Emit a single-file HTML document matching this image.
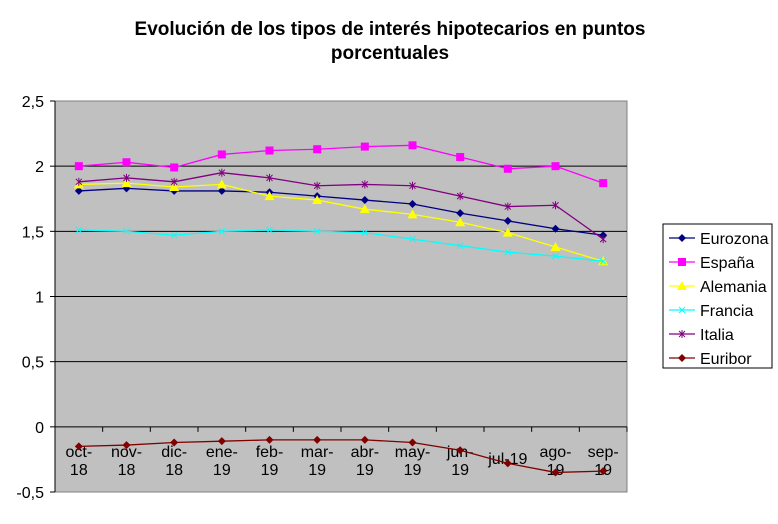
<!DOCTYPE html>
<html><head><meta charset="utf-8"><style>
body{margin:0;background:#fff;width:778px;height:519px;overflow:hidden;font-family:"Liberation Sans",Arial,sans-serif}
</style></head><body>
<svg width="778" height="519" xmlns="http://www.w3.org/2000/svg" font-family="Liberation Sans, Arial, sans-serif">
<text x="390" y="35" text-anchor="middle" font-size="19" font-weight="bold">Evolución de los tipos de interés hipotecarios en puntos</text>
<text x="390" y="59" text-anchor="middle" font-size="19" font-weight="bold">porcentuales</text>
<rect x="55" y="101" width="572" height="391" fill="#c0c0c0" stroke="#808080"/>
<g id="grid"></g><g id="axes"></g><g id="series"></g>
<g id="legend"></g>
</svg>
<script>
const categories=["oct-|18","nov-|18","dic-|18","ene-|19","feb-|19","mar-|19","abr-|19","may-|19","jun-|19","jul-19","ago-|19","sep-|19"];
const yTicks=[2.5,2,1.5,1,0.5,0,-0.5];
const yTickLabels=["2,5","2","1,5","1","0,5","0","-0,5"];
const seriesNames=["Eurozona","España","Alemania","Francia","Italia","Euribor"];
const eurozona=[1.81,1.83,1.81,1.81,1.80,1.77,1.74,1.71,1.64,1.58,1.52,1.47];
const espana=[2.00,2.03,1.99,2.09,2.12,2.13,2.15,2.16,2.07,1.98,2.00,1.87];
const alemania=[1.86,1.87,1.84,1.86,1.77,1.74,1.67,1.63,1.57,1.49,1.38,1.27];
const francia=[1.51,1.50,1.47,1.50,1.51,1.50,1.49,1.44,1.39,1.34,1.31,1.27];
const italia=[1.88,1.91,1.88,1.95,1.91,1.85,1.86,1.85,1.77,1.69,1.70,1.44];
const euribor=[-0.15,-0.14,-0.12,-0.11,-0.10,-0.10,-0.10,-0.12,-0.18,-0.28,-0.35,-0.34];
const NS="http://www.w3.org/2000/svg";
const L=55,R=627,T=101,B=492,ymax=2.5,ymin=-0.5;
const bw=(R-L)/categories.length;
function xs(i){return L+bw*(i+0.5);}
function ys(v){return T+(ymax-v)/(ymax-ymin)*(B-T);}
function mk(tag,attrs,parent){const e=document.createElementNS(NS,tag);for(const k in attrs)e.setAttribute(k,attrs[k]);parent.appendChild(e);return e;}
const grid=document.getElementById('grid'),axes=document.getElementById('axes'),ser=document.getElementById('series'),leg=document.getElementById('legend');
yTicks.forEach((v,i)=>{
 if(v!==ymax&&v!==ymin){const g=mk('line',{x1:L,x2:R,y1:ys(v),y2:ys(v),stroke:'#000','stroke-width':1},grid);
 
 }
 const t=mk('text',{x:L-11,y:ys(v)+6,'text-anchor':'end','font-size':16},axes);
 
 
 t.textContent=yTickLabels[i];
 mk('line',{x1:L-5,x2:L,y1:ys(v),y2:ys(v),stroke:'#000'},axes);
});
mk('line',{x1:L,x2:L,y1:T,y2:B,stroke:'#000'},axes);
const y0=ys(0);
for(let i=1;i<=categories.length;i++)mk('line',{x1:L+bw*i,x2:L+bw*i,y1:y0,y2:y0+5,stroke:'#000'},axes);
categories.forEach((c,i)=>{
 const parts=c.split('|');
 parts.forEach((p,j)=>{
  const t=mk('text',{x:xs(i),y:(parts.length===1?y0+37:y0+30+j*18),'text-anchor':'middle','font-size':16,fill:'#000'},axes);
  
  
  t.textContent=p;
 });
});
const colors=["#000080","#ff00ff","#ffff00","#00ffff","#800080","#800000"];
const data=[eurozona,espana,alemania,francia,italia,euribor];
const shapes=["diamond","square","triangle","x","star","diamond"];
function marker(shape,x,y,c,p){
 if(shape==="diamond")return mk('polygon',{points:`${x},${y-4} ${x+4},${y} ${x},${y+4} ${x-4},${y}`,fill:c},p);
 if(shape==="square")return mk('rect',{x:x-4,y:y-4,width:8,height:8,fill:c},p);
 if(shape==="triangle")return mk('polygon',{points:`${x},${y-5} ${x+5},${y+4} ${x-5},${y+4}`,fill:c},p);
 const g=mk('g',{stroke:c,'stroke-width':1},p);
 mk('line',{x1:x-3,y1:y-3,x2:x+3,y2:y+3},g);mk('line',{x1:x-3,y1:y+3,x2:x+3,y2:y-3},g);
 if(shape==="star")mk('line',{x1:x,y1:y-4,x2:x,y2:y+4},g);
 return g;
}
data.forEach((d,s)=>{
 const g=mk('g',{},ser);
 
 
 mk('polyline',{points:d.map((v,i)=>xs(i)+','+ys(v)).join(' '),fill:'none',stroke:colors[s],'stroke-width':1.3},g);
 d.forEach((v,i)=>{const m=marker(shapes[s],xs(i),ys(v),colors[s],g);
  
  });
});
mk('rect',{x:663,y:224,width:109,height:144,fill:'#fff',stroke:'#000'},leg);
seriesNames.forEach((n,s)=>{
 const y=238+s*24;
 const g=mk('g',{},leg);
 
 
 mk('line',{x1:669,x2:695,y1:y,y2:y,stroke:colors[s],'stroke-width':1.3},g);
 marker(shapes[s],682,y,colors[s],g);
 const t=mk('text',{x:700,y:y+6,'font-size':16},g);
 t.textContent=n;
});
</script>
</body></html>
